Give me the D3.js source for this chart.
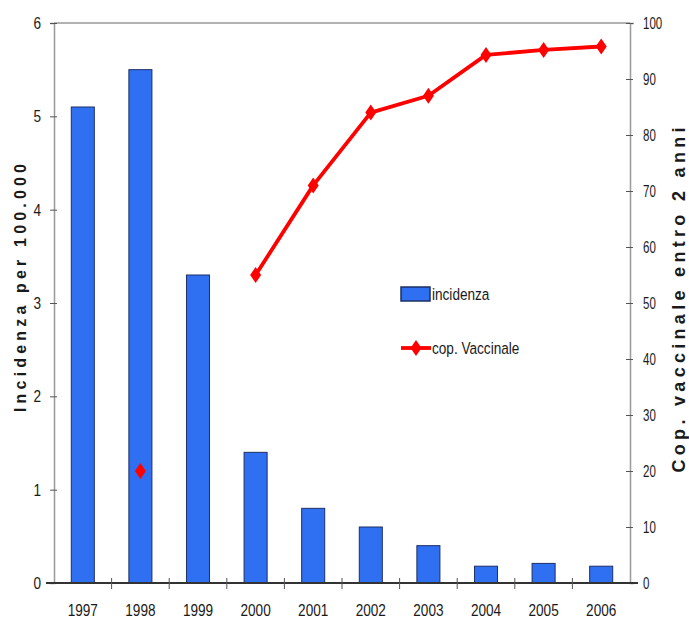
<!DOCTYPE html>
<html><head><meta charset="utf-8">
<script src="https://cdn.jsdelivr.net/npm/d3@7"></script>
<style>
body{margin:0;background:#fff;}
svg{display:block;}
text{font-family:"Liberation Sans",Arial,sans-serif;fill:#1a1a1a;}
</style></head>
<body>
<svg id="chart" width="689" height="630"></svg>
<script>
const years = ["1997","1998","1999","2000","2001","2002","2003","2004","2005","2006"];
const incidenza = [5.1, 5.5, 3.3, 1.4, 0.8, 0.6, 0.4, 0.18, 0.21, 0.18];
const copertura = [null, 20, null, 55, 71, 84, 87, 94.3, 95.2, 95.8];
const leftTicks = [0,1,2,3,4,5,6];
const rightTicks = [0,10,20,30,40,50,60,70,80,90,100];

const svg = d3.select("#chart");
const L = 54, R = 630, T = 23, B = 583;

const x = d3.scaleBand().domain(years).range([L, R]).paddingInner(0.6).paddingOuter(0.3);
const xb = d3.scaleBand().domain(years).range([L, R]);
const yL = d3.scaleLinear().domain([0, 6]).range([B, T]);
const yR = d3.scaleLinear().domain([0, 100]).range([B, T]);

function condense(sel, sx, size) {
  sel.each(function() {
    const t = d3.select(this);
    const xv = +t.attr("x") || 0;
    t.attr("x", xv / sx).attr("transform", `scale(${sx},1)`)
     .style("font-size", size + "px").attr("fill", "#1a1a1a").attr("font-family", null);
  });
}

// top border
svg.append("line").attr("x1", L).attr("x2", R).attr("y1", T).attr("y2", T)
  .attr("stroke", "#999").attr("stroke-width", 1.5);

// left axis
const gL = svg.append("g").attr("transform", `translate(${L},0)`)
  .call(d3.axisLeft(yL).tickValues(leftTicks).tickSize(4).tickPadding(9).tickFormat(d3.format("d")));
gL.select(".domain").attr("stroke", "#999").attr("stroke-width", 1.5);
gL.selectAll(".tick line").attr("stroke", "#555").attr("x2", 3).attr("x1", -4);
condense(gL.selectAll(".tick text"), 0.8, 17);

// right axis
const gR = svg.append("g").attr("transform", `translate(${R},0)`)
  .call(d3.axisRight(yR).tickValues(rightTicks).tickSize(4).tickPadding(9));
gR.select(".domain").attr("stroke", "#999").attr("stroke-width", 1.5);
gR.selectAll(".tick line").attr("stroke", "#555").attr("x1", -4).attr("x2", 3);
condense(gR.selectAll(".tick text"), 0.72, 16);

// bars
svg.append("g").selectAll("rect").data(years).join("rect")
  .attr("x", d => x(d)).attr("width", x.bandwidth())
  .attr("y", (d, i) => yL(incidenza[i]))
  .attr("height", (d, i) => B - yL(incidenza[i]))
  .attr("fill", "#2f6ff2").attr("stroke", "#1d2f66").attr("stroke-width", 1);

// bottom axis
const gB = svg.append("g").attr("transform", `translate(0,${B})`)
  .call(d3.axisBottom(xb).tickSize(0).tickPadding(21));
gB.select(".domain").remove();
condense(gB.selectAll(".tick text"), 0.8, 17);
svg.append("line").attr("x1", L - 8).attr("x2", R + 8).attr("y1", B).attr("y2", B)
  .attr("stroke", "#333").attr("stroke-width", 2);
svg.append("g").selectAll("line").data(years.slice(1)).join("line")
  .attr("x1", d => xb(d)).attr("x2", d => xb(d))
  .attr("y1", B - 5).attr("y2", B + 6).attr("stroke", "#555").attr("stroke-width", 1);

// line
const cx = i => xb(years[i]) + xb.bandwidth() / 2;
const line = d3.line().defined(d => d != null).x((d, i) => cx(i)).y(d => yR(d));
svg.append("path").datum(copertura).attr("d", line)
  .attr("fill", "none").attr("stroke", "#ff0000").attr("stroke-width", 3.8).attr("stroke-linejoin", "round");
const diamond = "M0,-8 L5.5,0 L0,8 L-5.5,0 Z";
svg.append("g").selectAll("path").data(copertura.map((v, i) => ({v, i})).filter(d => d.v != null)).join("path")
  .attr("d", diamond).attr("transform", d => `translate(${cx(d.i)},${yR(d.v)})`)
  .attr("fill", "#ff0000");

// axis titles
svg.append("text").attr("transform", `translate(26,288) rotate(-90)`)
  .attr("text-anchor", "middle").style("font-size", "16px").style("font-weight", "bold")
  .attr("textLength", 248).attr("lengthAdjust", "spacing")
  .text("Incidenza per 100.000");
svg.append("text").attr("transform", `translate(685,300) rotate(-90)`)
  .attr("text-anchor", "middle").style("font-size", "18px").style("font-weight", "bold")
  .attr("textLength", 345).attr("lengthAdjust", "spacing")
  .text("Cop. vaccinale entro 2 anni");

// legend
const lg = svg.append("g");
lg.append("rect").attr("x", 401).attr("y", 287).attr("width", 29).attr("height", 14)
  .attr("fill", "#2f6ff2").attr("stroke", "#1d2f66").attr("stroke-width", 1.5);
lg.append("text").attr("x", 432).attr("y", 300).attr("transform", "translate(432,0) scale(0.8,1) translate(-432,0)")
  .style("font-size", "17px").text("incidenza");
lg.append("line").attr("x1", 401).attr("x2", 431).attr("y1", 348).attr("y2", 348)
  .attr("stroke", "#ff0000").attr("stroke-width", 3.8);
lg.append("path").attr("d", diamond).attr("transform", "translate(416,348)").attr("fill", "#ff0000");
lg.append("text").attr("x", 432).attr("y", 354).attr("transform", "translate(432,0) scale(0.8,1) translate(-432,0)")
  .style("font-size", "17px").text("cop. Vaccinale");
</script>
</body></html>
